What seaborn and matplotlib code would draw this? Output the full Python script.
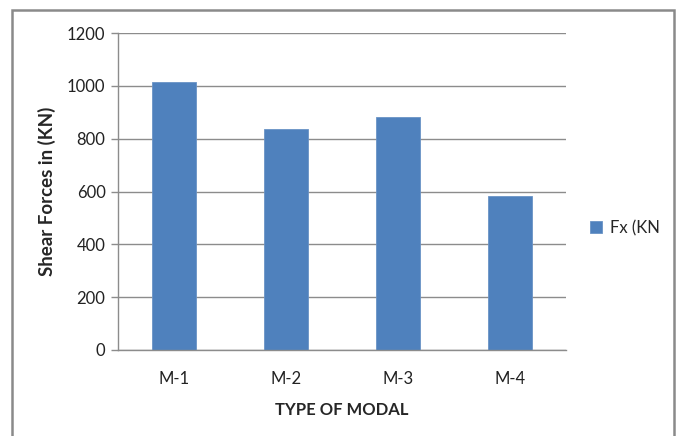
import matplotlib
matplotlib.use("Agg")
import matplotlib.pyplot as plt
from matplotlib.patches import Rectangle
import seaborn as sns
import pandas as pd

# Data
categories = ["M-1", "M-2", "M-3", "M-4"]
shear_fx = [1015, 836, 881, 583]
series_name = "Fx (KN"
y_ticks = [0, 200, 400, 600, 800, 1000, 1200]

sns.set_theme(style="white")
plt.rcParams["font.family"] = ["Lato", "DejaVu Sans"]

df = pd.DataFrame({"Type": categories, "Fx": shear_fx})

fig = plt.figure(figsize=(6.78, 4.36), dpi=100)
ax = fig.add_axes([118 / 678, 1 - 350 / 436, (566 - 118) / 678, (350 - 33) / 436])

bar_color = "#4F81BD"
sns.barplot(data=df, x="Type", y="Fx", color=bar_color, width=0.4,
            label=series_name, ax=ax, edgecolor="#6A93C6", linewidth=0.6,
            saturation=1)

grid_color = "#8C8C8C"
ax.set_ylim(0, 1200)
ax.set_yticks(y_ticks)
ax.set_yticklabels([str(v) for v in y_ticks], fontsize=12, color="#222222")
ax.set_xticks(range(len(categories)))
ax.set_xticklabels(categories, fontsize=12, color="#222222")
ax.set_xlim(-0.5, len(categories) - 0.5)

ax.yaxis.grid(True, color=grid_color, linewidth=1.0)
ax.set_axisbelow(True)
for side in ["top", "right"]:
    ax.spines[side].set_visible(False)
ax.spines["left"].set_color(grid_color)
ax.spines["bottom"].set_color(grid_color)
ax.spines["left"].set_linewidth(1.0)
ax.spines["bottom"].set_linewidth(1.0)
ax.tick_params(axis="y", direction="out", length=5, width=1, color=grid_color, pad=4, left=True)
ax.tick_params(axis="x", length=0, pad=15)

ax.set_xlabel("TYPE OF MODAL", fontsize=12, fontweight="bold", labelpad=11)
ax.set_ylabel("Shear Forces in (KN)", fontsize=13.5, fontweight="bold", labelpad=8)

ax.legend(loc="center left", bbox_to_anchor=(590 / 678, 1 - 228 / 436),
          bbox_transform=fig.transFigure, frameon=False, fontsize=12,
          handlelength=0.7, handleheight=0.7, handletextpad=0.5,
          borderaxespad=0, borderpad=0)

# Outer chart border
fig.patches.append(Rectangle((12 / 678, -0.05), (674 - 12) / 678, 1.05 - 10 / 436,
                             transform=fig.transFigure, fill=False,
                             edgecolor="#8A8A8A", linewidth=1.8, zorder=10))

fig.savefig("out.png", dpi=100)
